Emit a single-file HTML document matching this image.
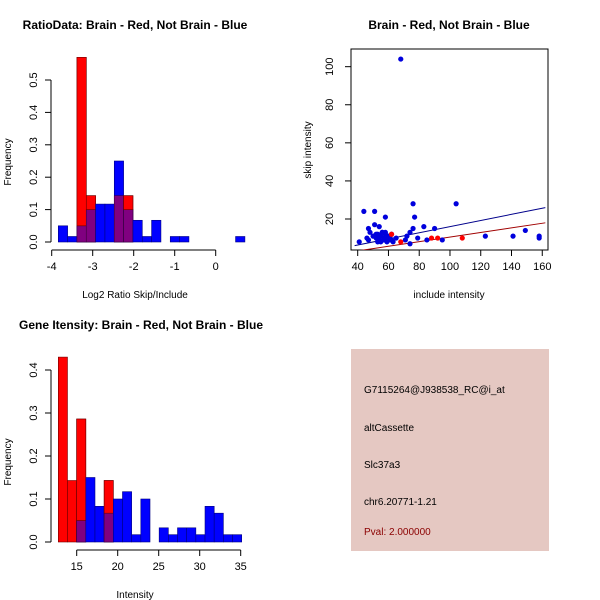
<!DOCTYPE html>
<html><head><meta charset="utf-8"><style>
body{margin:0;background:#fff}
svg{display:block;font-family:"Liberation Sans",sans-serif}
</style></head><body>
<svg id="c" width="600" height="600" viewBox="0 0 600 600"></svg>
<script>
// Ratio histogram data (bin index 0..19)
const ratioBlue=[0.05,0.017,0.05,0.1,0.117,0.117,0.25,0.1,0.067,0.017,0.067,0,0.017,0.017,0,0,0,0,0,0.017];
const ratioRed=[0,0,0.57,0.143,0,0,0.143,0.143,0,0,0,0,0,0,0,0,0,0,0,0];
const ratioXTicks=[-4,-3,-2,-1,0];
const ratioYTicks=[0,0.1,0.2,0.3,0.4,0.5];
// Intensity histogram data
const intBlue=[0,0,0.05,0.15,0.083,0.067,0.1,0.117,0.017,0.1,0,0.033,0.017,0.033,0.033,0.017,0.083,0.067,0.017,0.017];
const intRed=[0.43,0.143,0.286,0,0,0.143,0,0,0,0,0,0,0,0,0,0,0,0,0,0];
const intXTicks=[15,20,25,30,35];
const intYTicks=[0,0.1,0.2,0.3,0.4];
// Scatter data
const blueX=[68,44,51,58,76,104,77,83,90,51,54,47,48,46,41,47,76,74,72,71,74,79,85,95,123,141,149,158,158,65,62,50,52,53,54,55,56,57,58,59,60,61,53,55,57,59,61,63,52,56,60,58,54,62];
const blueY=[104,24,24,21,28,28,21,16,15,17,16,15,13,10,8,9,15,13,11,9,7,10,9,9,11,11,14,11,10,10,12,11,10,12,9,11,13,10,12,9,11,10,8,8,9,8,9,8,12,13,10,13,11,9];
const redX=[68,88,92,108,62];
const redY=[8,10,10,10,12];
const scXTicks=[40,60,80,100,120,140,160];
const scYTicks=[20,40,60,80,100];
const blueLine=[[38,6],[162,26]];
const redLine=[[38,3],[162,18]];

const svg=document.getElementById('c');
const NS='http://www.w3.org/2000/svg';
function mk(tag,attrs,parent){const e=document.createElementNS(NS,tag);for(const k in attrs)e.setAttribute(k,attrs[k]);(parent||svg).appendChild(e);return e;}
function txt(s,x,y,size,attrs,parent){const t=mk('text',Object.assign({x:x,y:y,'font-size':size,'text-anchor':'middle'},attrs||{}),parent);t.textContent=s;return t;}

function hist(name,blue,red,x0,bw,y0,yScale,xTickVals,xTickPx,yTicks,title,xlab,tx,ty){
  const g=mk('g',{});
  
  
  const sy=v=>y0-v*yScale;
  for(let i=0;i<blue.length;i++){
    const b=blue[i],r=red[i],x=x0+i*bw;
    if(r>0){const e=mk('rect',{x:x,y:sy(r),width:bw,height:r*yScale,fill:'#ff0000',stroke:'#700000','stroke-width':0.6},g);
      }
    if(b>0){const e=mk('rect',{x:x,y:sy(b),width:bw,height:b*yScale,fill:'#0000ff',stroke:'#000080','stroke-width':0.6},g);
      }
    if(b>0&&r>0){const m=Math.min(b,r);
      const e=mk('rect',{x:x,y:sy(m),width:bw,height:m*yScale,fill:'#800080',stroke:'#400040','stroke-width':0.6},g);
      
      if(r>b){const e2=mk('rect',{x:x,y:sy(r),width:bw,height:(r-b)*yScale,fill:'#ff0000',stroke:'#700000','stroke-width':0.6},g);
        }}
  }
  const ax=51;
  mk('line',{x1:ax,y1:sy(yTicks[0]),x2:ax,y2:sy(yTicks[yTicks.length-1]),stroke:'#000'},g);
  yTicks.forEach(v=>{mk('line',{x1:ax-6,y1:sy(v),x2:ax,y2:sy(v),stroke:'#000'},g);
    const t=txt(v.toFixed(1),0,0,11,{transform:`translate(${ax-14},${sy(v)}) rotate(-90)`},g);
    });
  const xa=y0+8;
  mk('line',{x1:xTickPx(xTickVals[0]),y1:xa,x2:xTickPx(xTickVals[xTickVals.length-1]),y2:xa,stroke:'#000'},g);
  xTickVals.forEach(v=>{mk('line',{x1:xTickPx(v),y1:xa,x2:xTickPx(v),y2:xa+6,stroke:'#000'},g);
    const t=txt(String(v),xTickPx(v),xa+20,11,{},g);
    });
  const tt=txt(title,tx,ty,12,{'font-weight':'bold'},g);
  const xl=txt(xlab,135,y0+56,10,{},g);
  const yl=txt('Frequency',0,0,10,{transform:`translate(11,${y0-80}) rotate(-90)`},g);
}
hist('ratio-histogram',ratioBlue,ratioRed,58.3,9.33,242,324,ratioXTicks,v=>51.7+(v+4)*41,ratioYTicks,'RatioData: Brain - Red, Not Brain - Blue','Log2 Ratio Skip/Include',135,29);
hist('intensity-histogram',intBlue,intRed,58.3,9.17,542,430,intXTicks,v=>76.7+(v-15)*8.2,intYTicks,'Gene Itensity: Brain - Red, Not Brain - Blue','Intensity',141,329);

const sg=mk('g',{});


const sx=v=>357.7+(v-40)*1.538, syy=v=>219-(v-20)*1.904;
const clip=mk('clipPath',{id:'cp'},sg);mk('rect',{x:351,y:49,width:197,height:201},clip);
mk('rect',{x:351,y:49,width:197,height:201,fill:'none',stroke:'#000'},sg);
const bl=mk('line',{x1:sx(blueLine[0][0]),y1:syy(blueLine[0][1]),x2:sx(blueLine[1][0]),y2:syy(blueLine[1][1]),stroke:'#00008b','clip-path':'url(#cp)'},sg);

const rl=mk('line',{x1:sx(redLine[0][0]),y1:syy(redLine[0][1]),x2:sx(redLine[1][0]),y2:syy(redLine[1][1]),stroke:'#a00000','clip-path':'url(#cp)'},sg);

blueX.forEach((x,i)=>{const p=mk('circle',{cx:sx(x),cy:syy(blueY[i]),r:2.6,fill:'#0000dd'},sg);
  });
redX.forEach((x,i)=>{const p=mk('circle',{cx:sx(x),cy:syy(redY[i]),r:2.6,fill:'#ff0000'},sg);
  });
scXTicks.forEach(v=>{mk('line',{x1:sx(v),y1:250,x2:sx(v),y2:256,stroke:'#000'},sg);
  const t=txt(String(v),sx(v),270,11,{},sg);});
scYTicks.forEach(v=>{mk('line',{x1:345,y1:syy(v),x2:351,y2:syy(v),stroke:'#000'},sg);
  const t=txt(String(v),0,0,11,{transform:`translate(333,${syy(v)}) rotate(-90)`},sg);});
const st=txt('Brain - Red, Not Brain - Blue',449,29,12,{'font-weight':'bold'},sg);
const sxl=txt('include intensity',449,298,10,{},sg);
const syl=txt('skip intensity',0,0,10,{transform:'translate(311,150) rotate(-90)'},sg);

const ig=mk('g',{});


mk('rect',{x:351,y:349,width:198,height:202,fill:'#e5c8c2'},ig);
const lines=[['G7115264@J938538_RC@i_at',393,'#000','probe-id'],['altCassette',431,'#000','event-type'],['Slc37a3',468,'#000','gene-name'],['chr6.20771-1.21',505,'#000','location'],['Pval: 2.000000',535,'#8b0000','p-value']];
lines.forEach(l=>{const t=txt(l[0],364,l[1],10,{'text-anchor':'start',fill:l[2]},ig);
  });
</script>
</body></html>
